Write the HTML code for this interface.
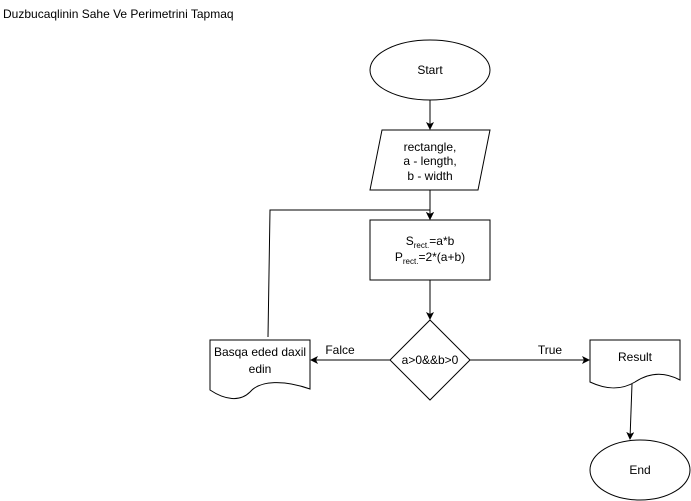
<!DOCTYPE html>
<html><head><meta charset="utf-8"><style>
body{margin:0;background:#fff}
svg{display:block;font-family:"Liberation Sans",Arial,sans-serif;font-size:12px}
</style></head><body>
<svg width="691" height="501" viewBox="0 0 691 501" xmlns="http://www.w3.org/2000/svg">
<defs><marker id="a" markerWidth="8" markerHeight="8" refX="7" refY="4" orient="auto" markerUnits="userSpaceOnUse"><path d="M0,0 L8,4 L0,8 L2,4 Z" fill="#000"/></marker></defs>
<text x="3" y="18" font-size="12">Duzbucaqlinin Sahe Ve Perimetrini Tapmaq</text>
<g fill="#fff" stroke="#000" stroke-width="1">
<ellipse cx="430" cy="70" rx="60" ry="30"/>
<path d="M382,130 L490,130 L478,190 L370,190 Z"/>
<rect x="370" y="220" width="120" height="60"/>
<path d="M430,320 L470,360 L430,400 L390,360 Z"/>
<path d="M210,340 L310,340 L310,389 C285,380 260,380 250,392 C240,402 225,400 210,390 Z"/>
<path d="M590,340 L680,340 L680,380 C665,372 650,372 635,382 C620,391 605,389 590,382 Z"/>
<ellipse cx="640" cy="470" rx="50" ry="30"/>
</g>
<g stroke="#000" fill="none" stroke-width="1">
<line x1="430" y1="100" x2="430" y2="129" marker-end="url(#a)"/>
<line x1="430" y1="190" x2="430" y2="219" marker-end="url(#a)"/>
<path d="M268,337 L270,210 L430,210 L430,219" marker-end="url(#a)"/>
<line x1="430" y1="280" x2="430" y2="319" marker-end="url(#a)"/>
<line x1="390" y1="360" x2="311" y2="360" marker-end="url(#a)"/>
<line x1="470" y1="360" x2="589" y2="360" marker-end="url(#a)"/>
<line x1="632" y1="384" x2="630" y2="439" marker-end="url(#a)"/>
</g>
<g text-anchor="middle">
<text x="430" y="74">Start</text>
<text x="430" y="151">rectangle,</text>
<text x="430" y="165">a - length,</text>
<text x="430" y="180">b - width</text>
<text x="430" y="245">S<tspan font-size="8" dy="3">rect.</tspan><tspan dy="-3">=a*b</tspan></text>
<text x="430" y="261">P<tspan font-size="8" dy="3">rect.</tspan><tspan dy="-3">=2*(a+b)</tspan></text>
<text x="430" y="364">a&gt;0&amp;&amp;b&gt;0</text>
<text x="260" y="356">Basqa eded daxil</text>
<text x="260" y="373">edin</text>
<text x="635" y="361">Result</text>
<text x="640" y="474">End</text>
<text x="340" y="354">Falce</text>
<text x="550" y="354">True</text>
</g>
</svg>
</body></html>
